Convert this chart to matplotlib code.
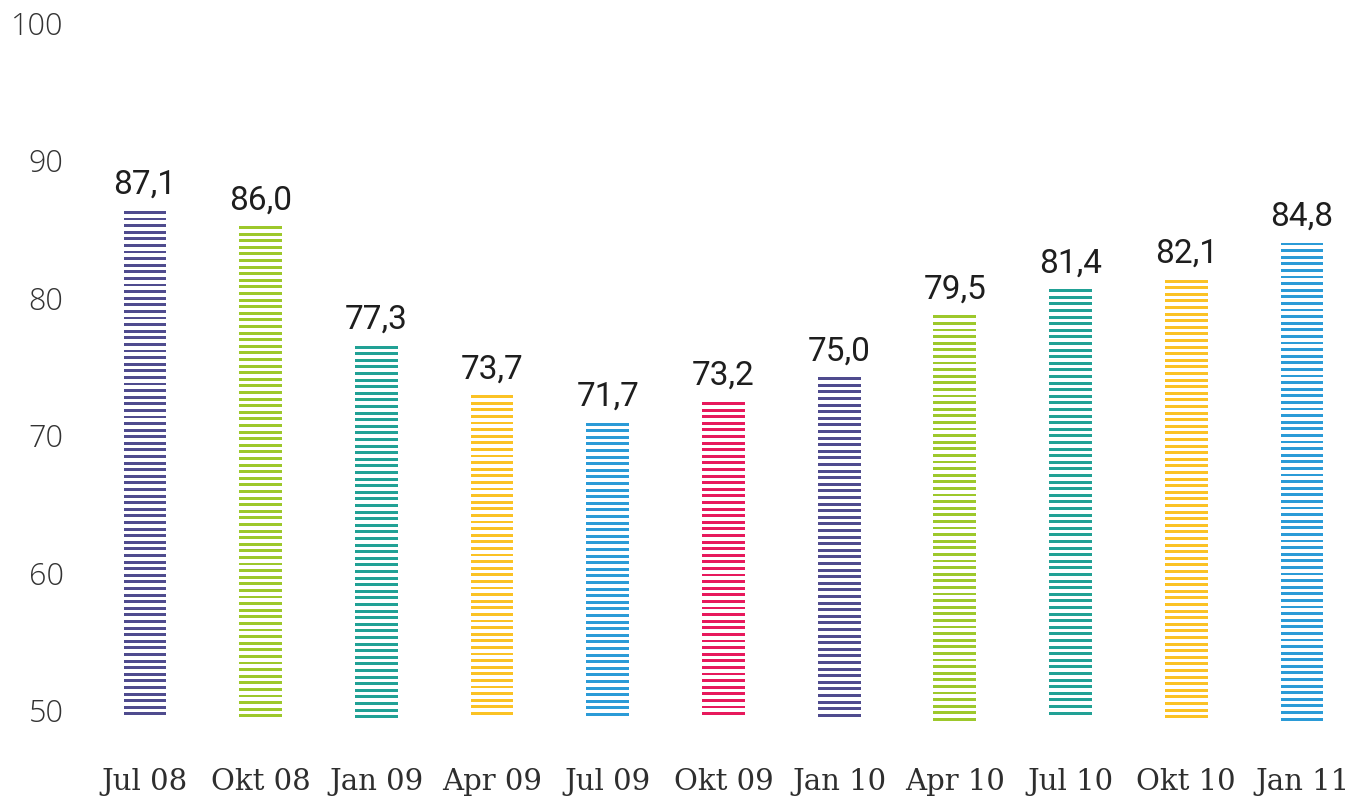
import numpy as np
import matplotlib
matplotlib.use("Agg")
import matplotlib.pyplot as plt

# quarterly index values
labels = ["Jul 08", "Okt 08", "Jan 09", "Apr 09", "Jul 09", "Okt 09",
          "Jan 10", "Apr 10", "Jul 10", "Okt 10", "Jan 11"]
values = [87.1, 86.0, 77.3, 73.7, 71.7, 73.2, 75.0, 79.5, 81.4, 82.1, 84.8]
colors = ["#4f4b8e", "#9dc82b", "#21a195", "#fbc224", "#2b9bd7", "#e7195c",
          "#4f4b8e", "#9dc82b", "#21a195", "#fbc224", "#2b9bd7"]
yticks = [50, 60, 70, 80, 90, 100]

BASE = 50.0
PERIOD = 0.48      # stripe period in data units
THICK = 0.21       # stripe thickness in data units
BAR_W = 0.37

fig = plt.figure(figsize=(13.59, 8.04), dpi=100)
ax = fig.add_axes([0.0641, 0.102, 0.9365, 0.855])

x = np.arange(len(values))
for xi, v, c in zip(x, values, colors):
    # stripes stacked down from the top of the bar to the baseline
    n = int((v - BASE - THICK) / PERIOD) + 1
    bottoms = v - THICK - np.arange(n) * PERIOD
    ax.bar(np.full(n, xi), THICK, bottom=bottoms, width=BAR_W,
           color=c, linewidth=0)
    ax.text(xi, v + 1.3, f"{v:.1f}".replace(".", ","), ha="center", va="baseline",
            fontsize=24, color="#1e1e1e", family="Roboto")

ax.set_xlim(-0.5, 10.5)
ax.set_ylim(BASE, 100)
for s in ax.spines.values():
    s.set_visible(False)

ax.set_yticks(yticks)
ax.set_yticklabels([str(t) for t in yticks], fontsize=22, color="#333333",
                   family="Open Sans", fontweight="light")
for t in ax.get_yticklabels():
    t.set_va("baseline")
ax.tick_params(axis="y", length=0, pad=17)

ax.set_xticks(x)
ax.set_xticklabels(labels, fontsize=21, color="#2e2e2e", family="DejaVu Serif")
ax.tick_params(axis="x", length=0, pad=33)

fig.savefig("out.png", dpi=100)
